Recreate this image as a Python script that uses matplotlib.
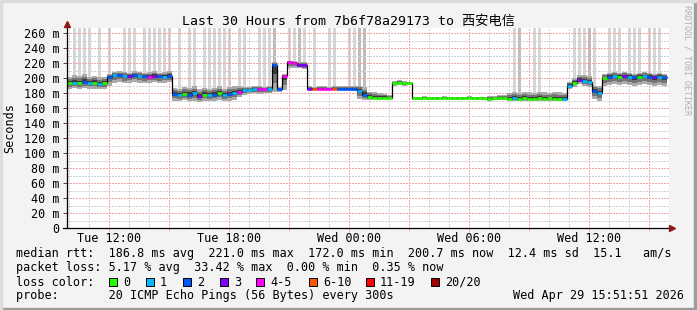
import numpy as np
import matplotlib.pyplot as plt
from matplotlib.patches import Rectangle

W, H = 697, 310

# time axis: hours since Tue 00:00, one value every 15 minutes
T0 = 9.9
STEP = 0.25

median = [193, 194, 193, 195, 194, 194, 192, 193, 202,
          204, 204, 203, 203, 204, 203, 203, 202, 203, 203, 202, 203,
          179, 177, 179, 178, 180, 176, 178, 177, 178, 180, 177, 179, 180, 182,
          184, 184, 185, 185, 185, 185,
          218, 185, 203, 221, 220, 218, 217,
          186, 186, 186, 186, 186, 186, 186, 186, 186, 186,
          183, 178, 175, 174, 174, 174, 174,
          193, 193, 193, 193,
          173, 173, 173, 173, 173, 173, 173, 173, 173, 173, 173, 173, 173, 173, 173, 172,
          173, 173, 173, 172, 173, 172, 173, 172, 172, 173, 172, 173, 172, 172, 172,
          190, 194, 198, 196, 195, 183, 180, 200,
          202, 203, 202, 203, 202, 201, 202, 203, 202, 201, 202, 201]

loss = [0, 1, 0, 2, 1, 0, 1, 0, 2,
        1, 2, 1, 3, 2, 1, 2, 4, 3, 2, 1, 2,
        2, 1, 0, 2, 1, 3, 0, 1, 2, 0, 1, 2, 1, 4,
        1, 1, 1, 4, 4, 1,
        2, 2, 4, 4, 4, 3, 3,
        3, 5, 4, 4, 4, 5, 2, 2, 2, 2,
        1, 2, 0, 0, 0, 0, 0,
        0, 0, 0, 0,
        0, 0, 0, 0, 0, 0, 0, 0, 0, 0, 0, 0, 0, 0, 0, 0,
        0, 0, 0, 0, 1, 0, 0, 0, 0, 0, 0, 0, 0, 0, 1,
        1, 0, 3, 1, 1, 2, 1, 0,
        2, 1, 0, 3, 1, 2, 0, 1, 2, 3, 1, 2]

smoke_lo = [186, 187, 185, 187, 186, 186, 185, 186, 190,
            194, 195, 193, 194, 195, 194, 193, 194, 195, 193, 194, 195,
            170, 169, 171, 169, 170, 168, 170, 169, 170, 171, 169, 170, 171, 175,
            178, 179, 180, 179, 180, 180,
            181, 182, 184, 214, 214, 213, 212,
            184, 184, 185, 184, 184, 185, 184, 184, 184, 183,
            172, 171, 171, 172, 171, 172, 172,
            190, 191, 190, 191,
            171, 171, 172, 171, 171, 171, 172, 171, 171, 171, 171, 172, 171, 171, 171, 170,
            171, 171, 171, 170, 169, 170, 170, 169, 170, 169, 170, 169, 170, 169, 169,
            185, 188, 192, 190, 188, 172, 170, 190,
            191, 192, 191, 192, 191, 190, 191, 192, 191, 190, 191, 190]

smoke_hi = [202, 204, 203, 205, 202, 203, 201, 202, 206,
            208, 209, 208, 207, 209, 208, 207, 208, 209, 207, 208, 209,
            187, 186, 188, 187, 189, 185, 187, 186, 187, 189, 186, 188, 189, 190,
            188, 188, 189, 189, 188, 189,
            222, 188, 205, 223, 223, 222, 221,
            189, 188, 189, 189, 188, 189, 190, 189, 189, 190,
            190, 188, 182, 181, 180, 179, 178,
            196, 197, 196, 195,
            175, 175, 176, 175, 175, 175, 176, 175, 175, 175, 175, 176, 175, 175, 175, 176,
            176, 177, 178, 180, 181, 180, 182, 181, 180, 182, 181, 180, 182, 181, 180,
            195, 200, 204, 204, 203, 190, 190, 206,
            207, 208, 207, 208, 207, 206, 207, 208, 207, 206, 207, 206]

# steps where some pings went above the top of the graph
spike_steps = [1, 2, 3, 4, 6, 8, 11, 12, 13, 15, 16, 17, 18, 19, 20, 22, 24, 25,
               27, 28, 29, 30, 31, 32, 34, 35, 38, 39, 40, 41, 44, 45, 46, 47,
               49, 52, 53, 56, 57, 58, 59, 89, 90, 93, 94, 101, 102, 103, 104,
               105, 108, 109, 110, 112, 113, 114, 116, 117, 118]
dark_spike_steps = [41, 46, 58, 59, 90, 104]

LOSS_COLORS = ['#26ff00', '#00b8ff', '#0059ff', '#7e00ff', '#ff00ff', '#ff5500', '#ff0000', '#a10000']
LOSS_LABELS = ['0', '1', '2', '3', '4-5', '6-10', '11-19', '20/20']

rtt_line = 'median rtt:  186.8 ms avg  221.0 ms max  172.0 ms min  200.7 ms now  12.4 ms sd  15.1   am/s'
loss_line = 'packet loss: 5.17 % avg  33.42 % max  0.00 % min  0.35 % now'
probe_line = 'probe:       20 ICMP Echo Pings (56 Bytes) every 300s'
stamp = 'Wed Apr 29 15:51:51 2026'

y_ticks = list(range(0, 261, 20))
y_labels = ['0'] + [f'{v} m' for v in y_ticks[1:]]
x_ticks = [12, 18, 24, 30, 36]
x_labels = ['Tue 12:00', 'Tue 18:00', 'Wed 00:00', 'Wed 06:00', 'Wed 12:00']

plt.rcParams['font.family'] = ['DejaVu Sans Mono', 'Noto Sans CJK SC']
plt.rcParams['font.size'] = 8.45

fig = plt.figure(figsize=(W / 100, H / 100), dpi=100, facecolor='#f3f3f3')


def px(x, y):
    return x / W, 1 - y / H


# 3d-ish frame around the canvas
fig.patches.append(Rectangle((0, 0), 1, 2 / H, transform=fig.transFigure, color='#9c9c9c'))
fig.patches.append(Rectangle((1 - 3 / W, 0), 3 / W, 1, transform=fig.transFigure, color='#9c9c9c'))
fig.patches.append(Rectangle((0, 1 - 2 / H), 1, 2 / H, transform=fig.transFigure, color='#dcdcdc'))
fig.patches.append(Rectangle((0, 0), 2 / W, 1, transform=fig.transFigure, color='#dcdcdc'))

ax = fig.add_axes([67 / W, 1 - 228 / H, 602 / W, 200 / H])
ax.set_facecolor('white')
x_end = T0 + 602 / 20
y_top = 200 / 0.75
ax.set_xlim(T0, x_end)
ax.set_ylim(0, y_top)
for s in ax.spines.values():
    s.set_visible(False)

edges = T0 + STEP * np.arange(len(median) + 1)
mid = np.array(median, dtype=float)
lo = np.array(smoke_lo, dtype=float)
hi = np.array(smoke_hi, dtype=float)

# tall spikes
for k in spike_steps:
    ax.bar(T0 + STEP * (k + 0.5), y_top - hi[k], bottom=hi[k], width=0.16,
           color='#bdbdbd' if k in dark_spike_steps else '#d6d6d6', linewidth=0, zorder=1)

# dotted grid
for v in range(10, 261, 10):
    major = v % 20 == 0
    ax.axhline(v, color='#f4a4a4' if major else '#d2d2d2', lw=0.75,
               linestyle=(0, (1, 1.6)), antialiased=False, zorder=1.5)
for h in range(10, 40):
    major = h % 3 == 0
    ax.axvline(h, color='#f4a4a4' if major else '#d2d2d2', lw=0.75,
               linestyle=(0, (1, 1.6)), antialiased=False, zorder=1.5)

# smoke
for f, c in [(1.0, '#aaaaaa'), (0.66, '#747474'), (0.33, '#3c3c3c')]:
    ax.stairs(mid + f * (hi - mid), edges, baseline=mid - f * (mid - lo), fill=True,
              color=c, linewidth=0, zorder=2)

# median line coloured by loss
ax.stairs(mid, edges, baseline=None, color='black', lw=0.9, zorder=3)
ax.hlines(mid, edges[:-1], edges[1:], colors=[LOSS_COLORS[c] for c in loss], lw=1.9, zorder=4)

# axes with arrows
ax.plot([T0, T0], [0, 272], color='black', lw=0.9, clip_on=False, zorder=5)
ax.plot([T0 - 0.2, x_end + 0.05], [0, 0], color='black', lw=0.9, clip_on=False, zorder=5)
ax.plot(T0, 272.5, marker='^', color='#8b1a1a', ms=4.5, clip_on=False, zorder=6)
ax.plot(x_end + 0.15, 0, marker='>', color='#8b1a1a', ms=4.5, clip_on=False, zorder=6)

ax.set_yticks(y_ticks, y_labels)
ax.set_xticks(x_ticks, x_labels)
ax.set_xticks(range(12, 40, 3), minor=True)
ax.tick_params(axis='y', length=3, width=0.7, pad=2.4, color='#444444')
ax.tick_params(axis='x', which='major', length=2, width=0.7, pad=1.2, color='#f4a4a4')
ax.tick_params(axis='x', which='minor', length=2, width=0.7, color='#f4a4a4')

fig.text(*px(348, 21), 'Last 30 Hours from 7b6f78a29173 to 西安电信', ha='center', va='center',
         fontsize=9.5)
fig.text(*px(10, 128), 'Seconds', rotation=90, ha='center', va='center')
fig.text(*px(687, 5), 'RRDTOOL / TOBI OETIKER', rotation=270, ha='center', va='top',
         fontsize=6, color='#b0b0b0')

# legend rows
fig.text(*px(16, 254), rtt_line, va='center')
fig.text(*px(16, 268), loss_line, va='center')
fig.text(*px(16, 282), 'loss color:', va='center')
box_x = [109, 146, 183, 220, 256, 309, 366, 431]
for c, lab, x in zip(LOSS_COLORS, LOSS_LABELS, box_x):
    fig.patches.append(Rectangle(px(x, 286), 8 / W, 8 / H, transform=fig.transFigure,
                                 facecolor=c, edgecolor='black', lw=0.7))
    fig.text(*px(x + 14, 282), lab, va='center')
fig.text(*px(16, 296), probe_line, va='center')
fig.text(*px(513, 296), stamp, ha='left', va='center')

fig.savefig('out.png', dpi=100, facecolor=fig.get_facecolor())
